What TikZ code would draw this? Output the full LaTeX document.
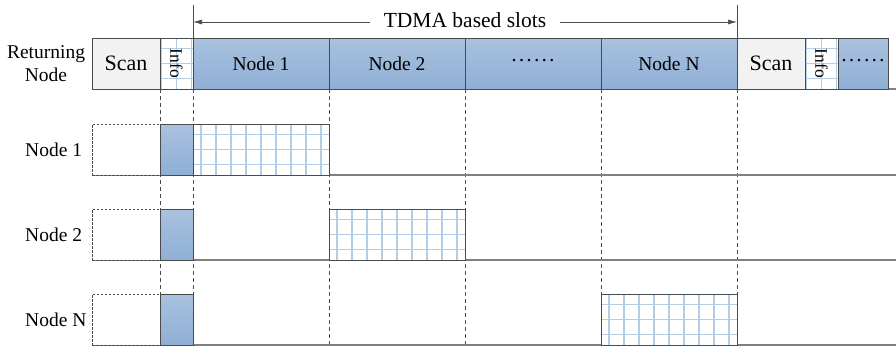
\documentclass[tikz,border=0pt]{standalone}
\usepackage{fontspec}
\setmainfont{Liberation Serif}
\usetikzlibrary{arrows.meta}
\definecolor{blueT}{HTML}{A9C2DF}
\definecolor{blueB}{HTML}{8FAFD5}
\definecolor{bordc}{HTML}{4A4A4A}
\definecolor{linec}{HTML}{808080}
\definecolor{scanc}{HTML}{F2F2F2}
\definecolor{gridc}{HTML}{B4CDE6}
\newcommand{\sixdots}{{\fontsize{21}{22}\selectfont ·\kern0.6pt·\kern0.6pt·\kern0.6pt·\kern0.6pt·\kern0.6pt·}}
\begin{document}
\begin{tikzpicture}[x=1pt,y=-1pt,
  box/.style={rectangle, inner sep=0pt, outer sep=0pt, anchor=north west, minimum height=51pt},
  blueseg/.style={box, draw=bordc, line width=0.8pt, top color=blueT, bottom color=blueB, font=\fontsize{19.5}{22}\selectfont},
  scanseg/.style={box, draw=bordc, line width=0.8pt, fill=scanc, font=\fontsize{22}{24}\selectfont},
  gridseg/.style={box, draw=bordc, line width=0.8pt, fill=white,
    path picture={\draw[gridc, line width=1.4pt] (path picture bounding box.south west) grid[step=15pt] (path picture bounding box.north east);}},
  dashbox/.style={box, draw=bordc, dashed, dash pattern=on 2.5pt off 1.5pt, line width=0.7pt, fill=white},
  sideLbl/.style={font=\fontsize{19.5}{23}\selectfont},
  infoLbl/.style={rotate=-90, font=\fontsize{17.5}{19}\selectfont, inner sep=0pt},
  vdash/.style={bordc, line width=0.8pt, dash pattern=on 4pt off 3pt},
  baseln/.style={linec, line width=1.2pt},
  tick/.style={bordc, line width=0.7pt}]
\useasboundingbox (0,0) rectangle (896,349);

% dashed slot boundaries
\foreach \x in {160,193,329,465,601,737} \draw[vdash] (\x,89) -- (\x,345);

% baselines
\draw[baseln] (92,89) -- (896,89);
\foreach \y in {175,260,345} \draw[baseln] (92,\y) -- (896,\y);

% top bar (Returning node)
\node[scanseg, minimum width=68pt] (scanA) at (92,38) {Scan};
\node[gridseg, minimum width=33pt] (infoA) at (160,38) {};
\node[infoLbl] (infoAt) at (infoA.center) {Info};
\node[blueseg, minimum width=136pt] (slot1) at (193,38) {Node 1};
\node[blueseg, minimum width=136pt] (slot2) at (329,38) {Node 2};
\node[blueseg, minimum width=136pt] (slotd) at (465,38) {\sixdots};
\node[blueseg, minimum width=136pt] (slotN) at (601,38) {Node N};
\node[scanseg, minimum width=68pt] (scanB) at (737,38) {Scan};
\node[gridseg, minimum width=33pt] (infoB) at (805,38) {};
\node[infoLbl] (infoBt) at (infoB.center) {Info};
\node[blueseg, minimum width=50pt] (slotd2) at (838,38) {\sixdots};

% left labels
\node[sideLbl, align=center, inner sep=0pt] (ret) at (46,64) {Returning\\Node};
\node[sideLbl, anchor=west, inner sep=0pt] (lab1) at (25,150) {Node 1};
\node[sideLbl, anchor=west, inner sep=0pt] (lab2) at (25,235) {Node 2};
\node[sideLbl, anchor=west, inner sep=0pt] (labN) at (25,320) {Node N};

% node rows
\node[dashbox, minimum width=68pt] (d1) at (92,124) {};
\node[blueseg, minimum width=33pt] (b1) at (160,124) {};
\node[gridseg, minimum width=136pt] (g1) at (193,124) {};

\node[dashbox, minimum width=68pt] (d2) at (92,209) {};
\node[blueseg, minimum width=33pt] (b2) at (160,209) {};
\node[gridseg, minimum width=136pt] (g2) at (329,209) {};

\node[dashbox, minimum width=68pt] (dN) at (92,294) {};
\node[blueseg, minimum width=33pt] (bN) at (160,294) {};
\node[gridseg, minimum width=136pt] (gN) at (601,294) {};

% TDMA span
\coordinate (tlt) at (193,5);
\coordinate (trt) at (737,5);
\draw[tick] (tlt) -- (slot1.north west);
\draw[tick] (trt) -- (slotN.north east);
\coordinate (al) at (193,22);
\coordinate (ar) at (737,22);
\draw[tick, {Latex[length=9pt,width=5pt]}-{Latex[length=9pt,width=5pt]}] (al) -- (ar);
\node[fill=white, inner xsep=14pt, inner ysep=1pt, font=\fontsize{21.5}{24}\selectfont] (tdma) at (465,20) {TDMA based slots};
\end{tikzpicture}
\end{document}
